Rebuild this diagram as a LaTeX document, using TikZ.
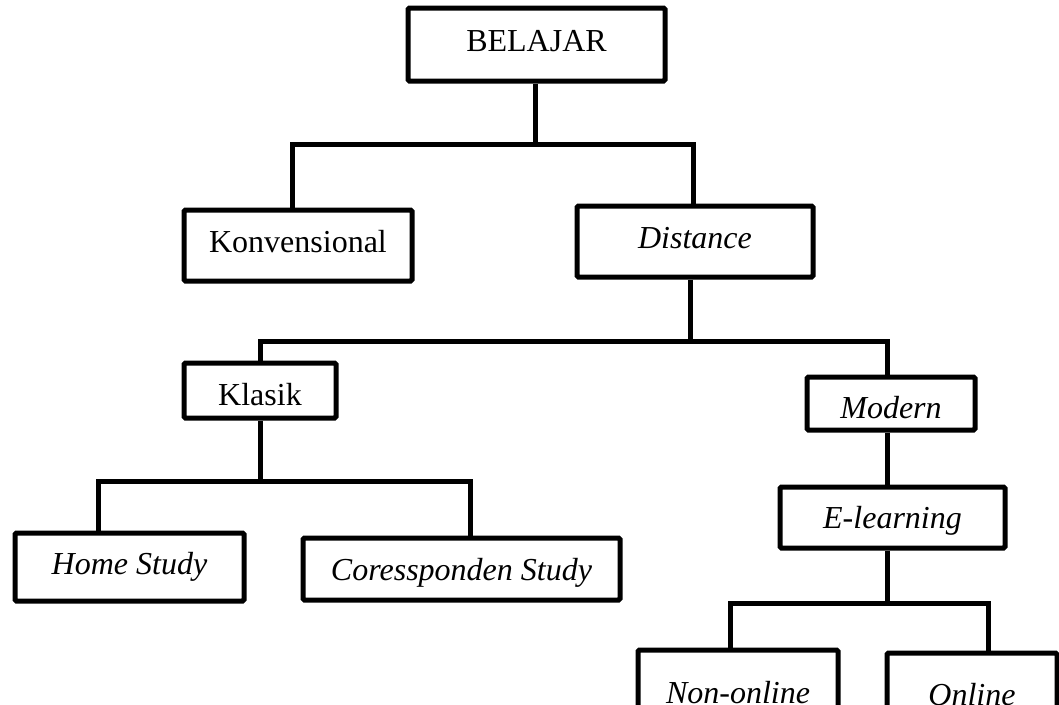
\documentclass[tikz,border=0pt]{standalone}
\usepackage{fontspec}
\setmainfont{Liberation Serif}
\begin{document}
\begin{tikzpicture}[x=1pt, y=-1pt, line width=5pt,
        main/.style = {draw, rounded corners=1.5pt, inner sep=0pt, text height=21pt, text depth=7pt, font=\fontsize{32}{38}\selectfont},
        term/.style = {main, font=\fontsize{32}{38}\selectfont\itshape}]
        \useasboundingbox (0,0) rectangle (1059,704);
        \clip (0,0) rectangle (1059,704);
        \node[main, minimum width=257pt, minimum height=73pt] (1) at (536.5,44.5) {BELAJAR};
        \node[main, minimum width=228pt, minimum height=71pt] (2) at (298,245.5) {Konvensional};
        \node[term, minimum width=236pt, minimum height=71pt] (3) at (695,241.5) {Distance};
        \node[main, minimum width=152pt, minimum height=55pt, text height=36pt] (4) at (260,390.5) {Klasik};
        \node[term, minimum width=168pt, minimum height=53pt, text height=36pt] (5) at (891,403.5) {Modern};
        \node[term, minimum width=225pt, minimum height=61pt, text height=28pt] (6) at (892.5,517.5) {E-learning};
        \node[term, minimum width=229pt, minimum height=68pt] (7) at (129.5,567) {Home Study};
        \node[term, minimum width=317pt, minimum height=62pt, text height=29pt] (8) at (461.5,569) {Coressponden Study};
        \node[term, minimum width=200pt, minimum height=92pt] (9) at (738,696) {Non-online};
        \node[term, minimum width=170pt, minimum height=90pt] (10) at (972,698) {Online};

        \coordinate (a) at (535,144);
        \coordinate (b) at (690,341);
        \coordinate (c) at (260,481);
        \coordinate (d) at (887,603);

        \draw ([xshift=-1.5pt]1.south) -- (a);
        \draw ([xshift=-6pt]2.north) |- (a) -| ([xshift=-2pt]3.north);
        \draw ([xshift=-5pt]3.south) -- (b);
        \draw (4.north) |- (b) -| ([xshift=-4pt]5.north);
        \draw ([xshift=-4pt]5.south) -- ([xshift=-5.5pt]6.north);
        \draw (4.south) -- (c);
        \draw ([xshift=-31.5pt]7.north) |- (c) -| ([xshift=8.5pt]8.north);
        \draw ([xshift=-5.5pt]6.south) -- (d);
        \draw ([xshift=-8pt]9.north) |- (d) -| ([xshift=16pt]10.north);
    \end{tikzpicture}
\end{document}
